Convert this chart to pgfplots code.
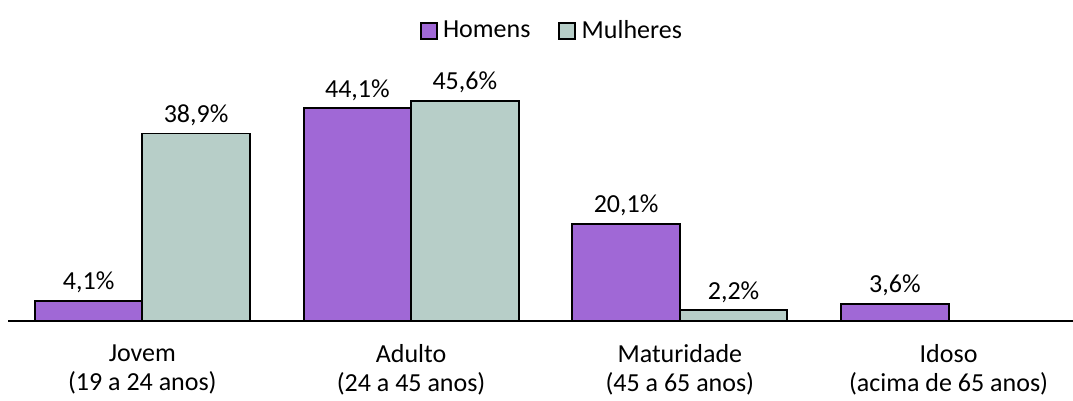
\documentclass[border=0pt]{standalone}
\usepackage{pgfplots}
\pgfplotsset{compat=1.18}
\usepackage{fontspec}
\setmainfont{Carlito}
\definecolor{homens}{RGB}{160,104,214}
\definecolor{mulheres}{RGB}{183,206,200}
\begin{document}
\begin{tikzpicture}
\begin{axis}[
  name=ax,
  scale only axis,
  width=798.75pt, height=180.75pt,
  xmin=-0.5, xmax=3.463, ymin=0, ymax=50,
  ybar=0pt, bar width=80.6pt,
  axis y line=none,
  axis x line=bottom,
  axis line style={-, line width=1.5pt},
  xtick={0,1,2,3},
  major tick length=0pt,
  xticklabels={{Jovem\\(19 a 24 anos)},{Adulto\\(24 a 45 anos)},{Maturidade\\(45 a 65 anos)},{Idoso\\(acima de 65 anos)}},
  xticklabel style={align=center, font=\fontsize{19.5}{22}\selectfont, yshift=-14pt},
  clip=false,
  nodes near coords={\pgfmathprintnumber[fixed,fixed zerofill,precision=1,use comma,assume math mode=true]{\pgfplotspointmeta}\%},
  every node near coord/.append style={font=\fontsize{19.5}{21}\selectfont, black, yshift=2pt},
  legend columns=2,
  legend style={draw=none, at={(0.511,1)}, anchor=center, yshift=37pt, font=\fontsize{19.5}{21}\selectfont,
    /tikz/every odd column/.append style={column sep=2pt},
    /tikz/every even column/.append style={column sep=19pt}},
  legend image code/.code={\draw[#1, line width=1.4pt] (0pt,-6pt) rectangle (12pt,6pt);},
]
\addplot[draw=black, line width=1.4pt, fill=homens] coordinates {(0,4.1) (1,44.1) (2,20.1) (3,3.6)};
\addplot[draw=black, line width=1.4pt, fill=mulheres] coordinates {(0,38.9) (1,45.6) (2,2.2)};
\legend{Homens, Mulheres}
\end{axis}
\pgfresetboundingbox
\path ([shift={(-6pt,-60pt)}]ax.south west) rectangle ([shift={(0pt,60pt)}]ax.north east);
\end{tikzpicture}
\end{document}
